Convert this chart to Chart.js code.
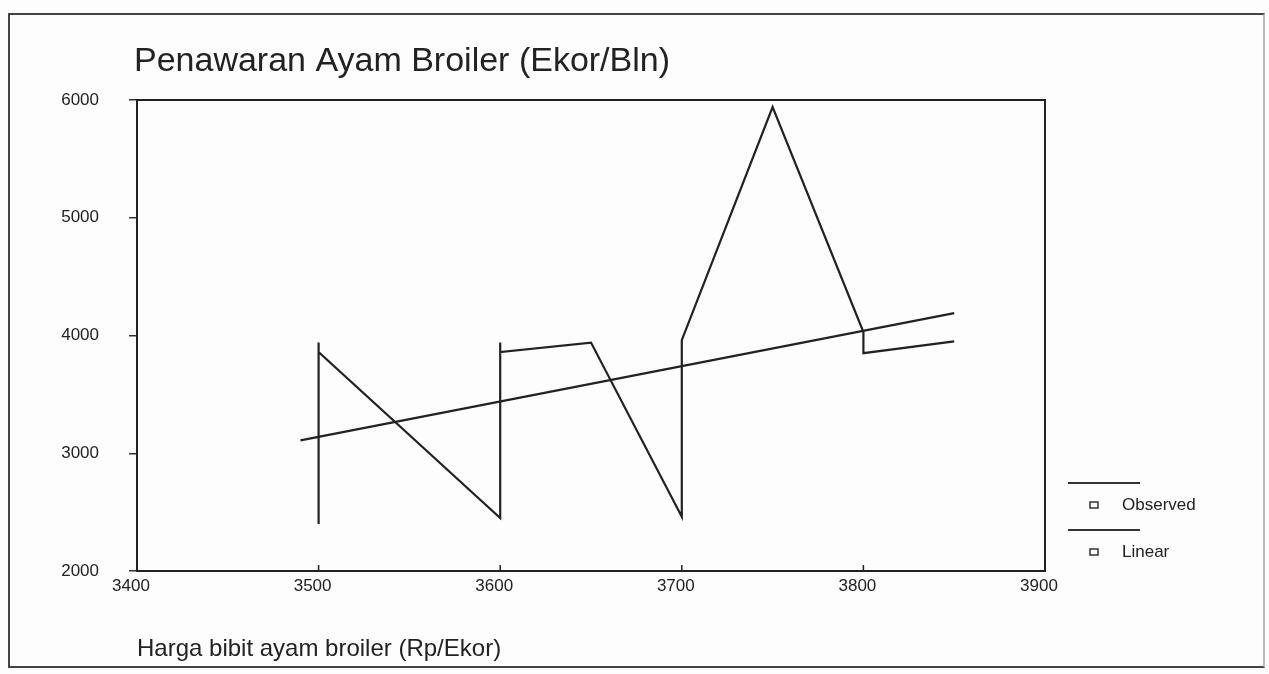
<!DOCTYPE html>
<html>
<head>
<meta charset="utf-8">
<script src="https://cdn.jsdelivr.net/npm/chart.js@4/dist/chart.umd.min.js"></script>
<style>
  html, body { margin: 0; padding: 0; background: #fdfdfd; }
  #wrap { position: relative; width: 1269px; height: 674px; overflow: hidden; }
  #frame {
    position: absolute; left: 8px; top: 13px; width: 1257px; height: 655px;
    border: 2px solid #444; border-right-color: #bbb; box-sizing: border-box;
  }
  canvas { position: absolute; left: 0; top: 0; }
</style>
</head>
<body>
<div id="wrap">
  <div id="frame"></div>
  <canvas id="chart" width="1269" height="674"></canvas>
</div>
<script>
// data
const obsX = [3500, 3500, 3500, 3600, 3600, 3600, 3650, 3700, 3700, 3750, 3800, 3800, 3850];
const obsY = [2400, 3940, 3860, 2450, 3940, 3860, 3940, 2460, 3960, 5940, 4030, 3850, 3950];
const linX = [3490, 3850];
const linY = [3110, 4190];
const xRange = [3400, 3900];
const yRange = [2000, 6000];
const xStep = 100;
const yStep = 1000;
const seriesNames = ['Observed', 'Linear'];
const titleText = 'Penawaran Ayam Broiler (Ekor/Bln)';
const xTitleText = 'Harga bibit ayam broiler (Rp/Ekor)';

const ink = '#222';
const fontFamily = "'Liberation Sans', Arial, sans-serif";

const toPoints = (xs, ys) => xs.map((x, i) => ({ x: x, y: ys[i] }));

// frame, title, x-axis title, inward x ticks and the legend
const decorPlugin = {
  id: 'decor',
  afterDraw(chart) {
    const { ctx, chartArea } = chart;
    const xs = chart.scales.x;
    ctx.save();
    ctx.strokeStyle = ink;
    ctx.lineWidth = 2;
    // top and right edge of plot box
    ctx.beginPath();
    ctx.moveTo(chartArea.left, chartArea.top);
    ctx.lineTo(chartArea.right, chartArea.top);
    ctx.lineTo(chartArea.right, chartArea.bottom);
    ctx.stroke();
    // x ticks point into the plot
    ctx.lineWidth = 1.5;
    for (let v = xRange[0]; v <= xRange[1]; v += xStep) {
      const px = xs.getPixelForValue(v);
      ctx.beginPath();
      ctx.moveTo(px, chartArea.bottom);
      ctx.lineTo(px, chartArea.bottom - 6);
      ctx.stroke();
    }
    // title
    ctx.fillStyle = ink;
    ctx.textAlign = 'left';
    ctx.textBaseline = 'alphabetic';
    ctx.font = '34px ' + fontFamily;
    ctx.fillText(titleText, 134, 71);
    ctx.font = '24px ' + fontFamily;
    ctx.fillText(xTitleText, 137, 656);
    // legend
    ctx.font = '17px ' + fontFamily;
    ctx.textBaseline = 'middle';
    const legendRows = [483, 530];
    seriesNames.forEach((name, i) => {
      const y = legendRows[i];
      ctx.lineWidth = 2;
      ctx.strokeStyle = '#333';
      ctx.beginPath();
      ctx.moveTo(1068, y);
      ctx.lineTo(1140, y);
      ctx.stroke();
      ctx.lineWidth = 1.5;
      ctx.strokeRect(1090, y + 19, 8, 6);
      ctx.fillText(name, 1122, y + 22);
    });
    ctx.restore();
  }
};

new Chart(document.getElementById('chart'), {
  type: 'scatter',
  data: {
    datasets: [
      {
        label: seriesNames[0],
        data: toPoints(obsX, obsY),
        showLine: true,
        borderColor: ink,
        borderWidth: 2.2,
        pointRadius: 0,
        tension: 0
      },
      {
        label: seriesNames[1],
        data: toPoints(linX, linY),
        showLine: true,
        borderColor: ink,
        borderWidth: 2.2,
        pointRadius: 0,
        tension: 0
      }
    ]
  },
  options: {
    responsive: false,
    animation: false,
    devicePixelRatio: 1,
    layout: { padding: { left: 0, top: 100, right: 224, bottom: 0 } },
    plugins: {
      legend: { display: false },
      title: { display: false },
      tooltip: { enabled: false }
    },
    scales: {
      x: {
        type: 'linear',
        min: xRange[0],
        max: xRange[1],
        afterFit: (scale) => { scale.height = 103; },
        border: { display: true, color: ink, width: 2 },
        grid: { display: false, drawTicks: false },
        ticks: {
          stepSize: xStep,
          padding: 5,
          labelOffset: -6,
          color: ink,
          font: { family: fontFamily, size: 17 },
          maxRotation: 0,
          callback: (v) => String(v)
        }
      },
      y: {
        type: 'linear',
        min: yRange[0],
        max: yRange[1],
        afterFit: (scale) => { scale.width = 137; },
        border: { display: true, color: ink, width: 2 },
        grid: { drawOnChartArea: false, drawTicks: true, tickLength: 8, color: '#333', lineWidth: 1.5 },
        ticks: {
          stepSize: yStep,
          padding: 30,
          color: ink,
          font: { family: fontFamily, size: 17 },
          callback: (v) => String(v)
        }
      }
    }
  },
  plugins: [decorPlugin]
});
</script>
</body>
</html>
